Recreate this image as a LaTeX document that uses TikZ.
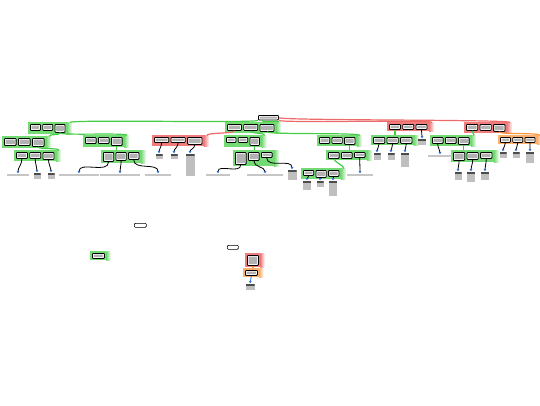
\documentclass[tikz,border=0pt]{standalone}
\usetikzlibrary{arrows.meta,fit,backgrounds,calc}
\definecolor{gb}{RGB}{70,205,70}
\definecolor{rb}{RGB}{235,80,80}
\definecolor{ob}{RGB}{250,150,60}
\definecolor{lt}{RGB}{40,110,220}
\tikzset{
 dbox/.style={draw=black, line width=0.8pt, rounded corners=0.8pt, fill=white, inner sep=0pt, anchor=north west,
   path picture={\fill[gray!60] ([shift={(1.2pt,-1.2pt)}]path picture bounding box.north west) rectangle ([shift={(-1.2pt,1.2pt)}]path picture bounding box.south east);}},
 lbox/.style={draw=black, line width=0.7pt, rounded corners=1pt, fill=white, inner sep=0pt, anchor=north west},
 leafw/.style={fill=gray!45, minimum height=1.6pt, inner sep=0pt, anchor=north},
 leafb/.style={fill=gray!50, inner sep=0pt, anchor=north,
   path picture={\fill[black!70] (path picture bounding box.north west) rectangle ([yshift=-1.3pt]path picture bounding box.north east);}},
 ge/.style={draw=gb, line width=1.2pt},
 re/.style={draw=rb!85, line width=1.2pt},
 oe/.style={draw=ob, line width=1.2pt},
 lk/.style={draw=black, line width=0.8pt, -{Triangle[length=2pt,width=2.6pt,color=lt]}},
}
\newcommand\dgrp[8]{%
 \node[dbox,minimum width=#5pt,minimum height=#6pt] (#1-1) at (#2,#3) {};
 \node[dbox,minimum width=#5pt,minimum height=#7pt] (#1-2) at ([xshift=1.5pt]#1-1.north east) {};
 \node[dbox,minimum width=#5pt,minimum height=#8pt] (#1-3) at ([xshift=1.5pt]#1-2.north east) {};
 \node[fit=(#1-1)(#1-2)(#1-3),inner sep=1.4pt] (#1) {};
 \begin{pgfonlayer}{background}
 \fill[#4!75] (#1.north west) rectangle (#1.south east);
 \shade[left color=#4!75,right color=#4!5] (#1.north east) rectangle ([xshift=5pt]#1.south east);
 \end{pgfonlayer}}
\newcommand\sgrp[6]{%
 \node[dbox,minimum width=#5pt,minimum height=#6pt] (#1-1) at (#2,#3) {};
 \node[fit=(#1-1),inner sep=1.4pt] (#1) {};
 \begin{pgfonlayer}{background}
 \fill[#4!75] (#1.north west) rectangle (#1.south east);
 \shade[left color=#4!75,right color=#4!5] (#1.north east) rectangle ([xshift=4pt]#1.south east);
 \end{pgfonlayer}}
\newcommand\lf[5]{% name, x, y, w, h
 \node[leafb,minimum width=#4pt,minimum height=#5pt] (#1) at (#2,#3) {};}
\newcommand\lw[4]{% name, x, y, w
 \node[leafw,minimum width=#4pt] (#1) at (#2,#3) {};}
\begin{document}
\begin{tikzpicture}[x=1pt,y=-1pt]
\begin{pgfonlayer}{background}
\fill[white] (0,0) rectangle (540,405);
\end{pgfonlayer}
\useasboundingbox (0,0) rectangle (540,405);
% root
\node[dbox,minimum width=20pt,minimum height=4.5pt] (root) at (258,115) {};
% level 1
\dgrp{G1}{30}{124}{gb}{10}{6}{6}{8}
\dgrp{G2}{227}{124}{gb}{14}{6}{6}{7}
\dgrp{G3}{389}{124}{rb}{11}{5}{5}{5}
\dgrp{G4}{466}{124}{rb}{11.3}{6}{6}{7}
% level 2
\dgrp{G1a}{4}{138}{gb}{11.7}{7}{7}{8}
\dgrp{G1b}{85}{137}{gb}{10.7}{6}{6}{8}
\dgrp{G2a}{154}{137}{rb}{14.3}{5}{5}{7}
\dgrp{G2b}{226}{137}{gb}{9.5}{5}{5}{8}
\dgrp{G2c}{319}{137}{gb}{10.3}{6}{6}{7}
\dgrp{G3a}{373}{137}{gb}{11.3}{6}{6}{6}
\dgrp{G4a}{432}{137}{gb}{10.7}{6}{6}{7}
\dgrp{G4b}{500}{137}{ob}{10}{5}{5}{5}
% level 3
\dgrp{G1a1}{16}{152}{gb}{11}{6}{6}{7}
\dgrp{G1b1}{103}{152}{gb}{10.3}{9}{8}{7}
\dgrp{G2b1}{235}{152}{gb}{10.7}{12}{8}{5}
\dgrp{G2c1}{328}{152}{gb}{10.7}{6}{6}{5}
\dgrp{G4a1}{453}{152}{gb}{11.3}{8}{7}{6}
\dgrp{G2c2}{303}{170}{gb}{10.3}{5}{7}{6}
% bottom items
\node[lbox,minimum width=12pt,minimum height=4pt] (lone1) at (134,223) {};
\node[lbox,minimum width=11pt,minimum height=4pt] (lone2) at (227,245) {};
\sgrp{S1}{92}{253}{gb}{12}{5}
\sgrp{S2}{247}{255}{rb}{11}{10}
\sgrp{S3}{245}{270}{ob}{12}{5}
% group edges
\draw[ge] (root.south west) .. controls +(0,3) and +(0,-3) .. ([xshift=3pt]G1.north east);
\draw[ge] ([xshift=4pt]root.south west) .. controls +(0,3) and +(0,-3) .. ([xshift=3pt]G2.north east);
\draw[re] (root.south east) .. controls +(0,3) and +(0,-3) .. ([xshift=3pt]G3.north east);
\draw[re] (root.east) .. controls +(0,3) and +(0,-3) .. ([xshift=3pt]G4.north east);
\draw[ge] (G1-3.south) .. controls +(0,3) and +(0,-3) .. ([xshift=3pt]G1a.north east);
\draw[ge] (G1-3.south) .. controls +(0,3) and +(0,-3) .. ([xshift=3pt]G1b.north east);
\draw[re] (G2-1.south) .. controls +(0,3) and +(0,-3) .. ([xshift=3pt]G2a.north east);
\draw[ge] (G2-2.south) .. controls +(0,3) and +(0,-3) .. ([xshift=3pt]G2b.north east);
\draw[ge] (G2-3.south) .. controls +(0,3) and +(0,-3) .. ([xshift=3pt]G2c.north east);
\draw[ge] (G1a-3.south) .. controls +(0,3) and +(0,-3) .. ([xshift=3pt]G1a1.north east);
\draw[ge] (G1b-3.south) -- (G1b-3.south |- G1b1.north);
\draw[ge] (G2b-3.south) -- (G2b-3.south |- G2b1.north);
\draw[ge] (G2c-3.south) -- (G2c-3.south |- G2c1.north);
\draw[ge] (G2c1-1.south) .. controls +(0,3) and +(0,-3) .. ([xshift=3pt]G2c2.north east);
\draw[ge] (G3-1.south) -- (G3-1.south |- G3a.north);
\draw[ge] (G4-1.south) .. controls +(0,3) and +(0,-3) .. ([xshift=3pt]G4a.north east);
\draw[oe] (G4-3.south) .. controls +(0,3) and +(0,-3) .. ([xshift=3pt]G4b.north east);
\draw[ge] (G4a-3.south) -- (G4a-3.south |- G4a1.north);
\draw[oe] (S2-1.south) -- (S2-1.south |- S3.north);
% leaves
\lw{La1}{18}{174}{22}
\lf{La2}{37}{173}{7}{6}
\lf{La3}{51}{173}{7}{6}
\lw{Lb1}{79}{174}{40}
\lw{Lb2}{120}{174}{40}
\lw{Lb3}{158}{174}{26}
\lf{Lc1}{159}{154}{7}{5}
\lf{Lc2}{174}{154}{7}{5}
\lf{Lc3}{190}{154}{9}{22}
\lw{Ld1}{218}{174}{24}
\lw{Ld2}{265}{174}{36}
\lf{Ld3}{292}{170}{9}{10}
\lw{Le0}{360}{174}{26}
\lf{Le1}{307}{181}{8}{9}
\lf{Le2}{320}{181}{7}{6}
\lf{Le3}{333}{181}{8}{15}
\lf{Lf1}{377}{153}{7}{7}
\lf{Lf2}{391}{153}{7}{7}
\lf{Lf3}{405}{153}{8}{14}
\lf{Lg}{422}{139}{8}{6}
\lw{Lh0}{440}{155}{24}
\lf{Lh1}{458}{172}{7}{8}
\lf{Lh2}{471}{172}{8}{10}
\lf{Lh3}{485}{172}{8}{8}
\lf{Li1}{503}{152}{7}{6}
\lf{Li2}{516}{152}{7}{6}
\lf{Li3}{530}{152}{8}{11}
\lf{Lj}{250}{284}{9}{6}
% leaf connectors
\foreach \p/\l in {G1a1-1/La1,G1a1-2/La2,G1a1-3/La3,G1b1-1/Lb1,G1b1-2/Lb2,G1b1-3/Lb3,
  G2a-1/Lc1,G2a-2/Lc2,G2a-3/Lc3,G2b1-1/Ld1,G2b1-2/Ld2,G2b1-3/Ld3,G2c1-3/Le0,
  G2c2-1/Le1,G2c2-2/Le2,G2c2-3/Le3,G3a-1/Lf1,G3a-2/Lf2,G3a-3/Lf3,G3-3/Lg,G4a-1/Lh0,
  G4a1-1/Lh1,G4a1-2/Lh2,G4a1-3/Lh3,G4b-1/Li1,G4b-2/Li2,G4b-3/Li3}
  \draw[lk] (\p.south) to[out=-90,in=90] ([yshift=0.8pt]\l.north);
\draw[lk,draw=lt] (S3-1.south) -- ([yshift=0.8pt]Lj.north);
\end{tikzpicture}
\end{document}
